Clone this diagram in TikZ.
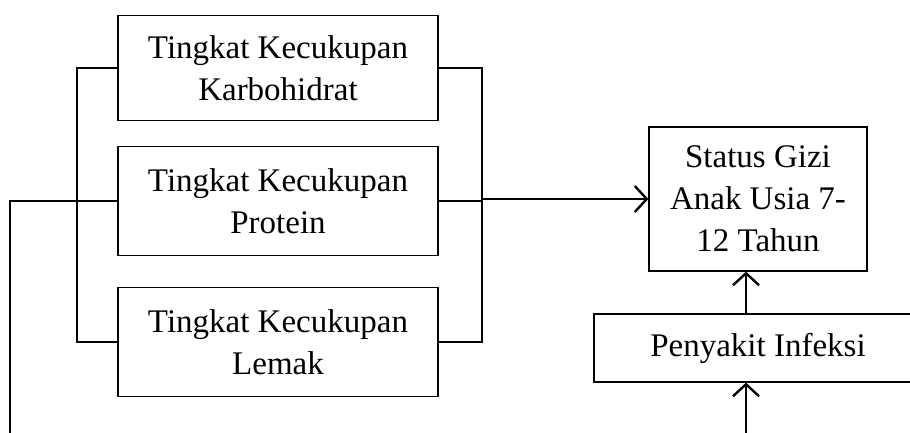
\documentclass[tikz,border=0pt]{standalone}
\usepackage{fontspec}
\setmainfont{Liberation Serif}
\usetikzlibrary{arrows.meta}

\begin{document}
\begin{tikzpicture}[x=1pt,y=-1pt,
        box/.style={draw,line width=1.2pt,align=center,inner sep=0pt,
            font=\fontsize{33}{42}\selectfont},
        lin/.style={line width=1.2pt},
        arr/.style={line width=2.4pt,-{Straight Barb[length=12pt,width=26pt,line width=2.4pt]}}]
\useasboundingbox (0,0) rectangle (910,432);
\clip (0,0) rectangle (910,432);

\node[box,minimum width=320pt,minimum height=105pt] (karbo) at (278,68) {Tingkat Kecukupan\\Karbohidrat};
\node[box,minimum width=320pt,minimum height=109pt] (protein) at (278,201) {Tingkat Kecukupan\\Protein};
\node[box,minimum width=320pt,minimum height=109pt] (lemak) at (278,342) {Tingkat Kecukupan\\Lemak};

\node[box,minimum width=218pt,minimum height=144pt] (status) at (758,199) {Status Gizi\\Anak Usia 7-\\12 Tahun};
\node[box,minimum width=328pt,minimum height=68pt] (infeksi) at (758,348) {Penyakit Infeksi};

\coordinate (lb) at (77,0);
\coordinate (rb) at (482,0);
\coordinate (lt) at (10,440);
\coordinate (bt) at (746,440);

% brackets
\draw[lin] (karbo.west) -| (lb |- lemak.west) -- (lemak.west);
\draw[lin] (karbo.east) -| (rb |- lemak.east) -- (lemak.east);
\draw[lin] (protein.east) -- (rb |- protein.east);
\draw[lin] (protein.west) -| (lt);

\draw[arr] (rb |- status.west) -- (status.west);
\draw[arr] (bt |- infeksi.north) -- (bt |- status.south);
\draw[arr] (bt) -- (bt |- infeksi.south);

\end{tikzpicture}
\end{document}
